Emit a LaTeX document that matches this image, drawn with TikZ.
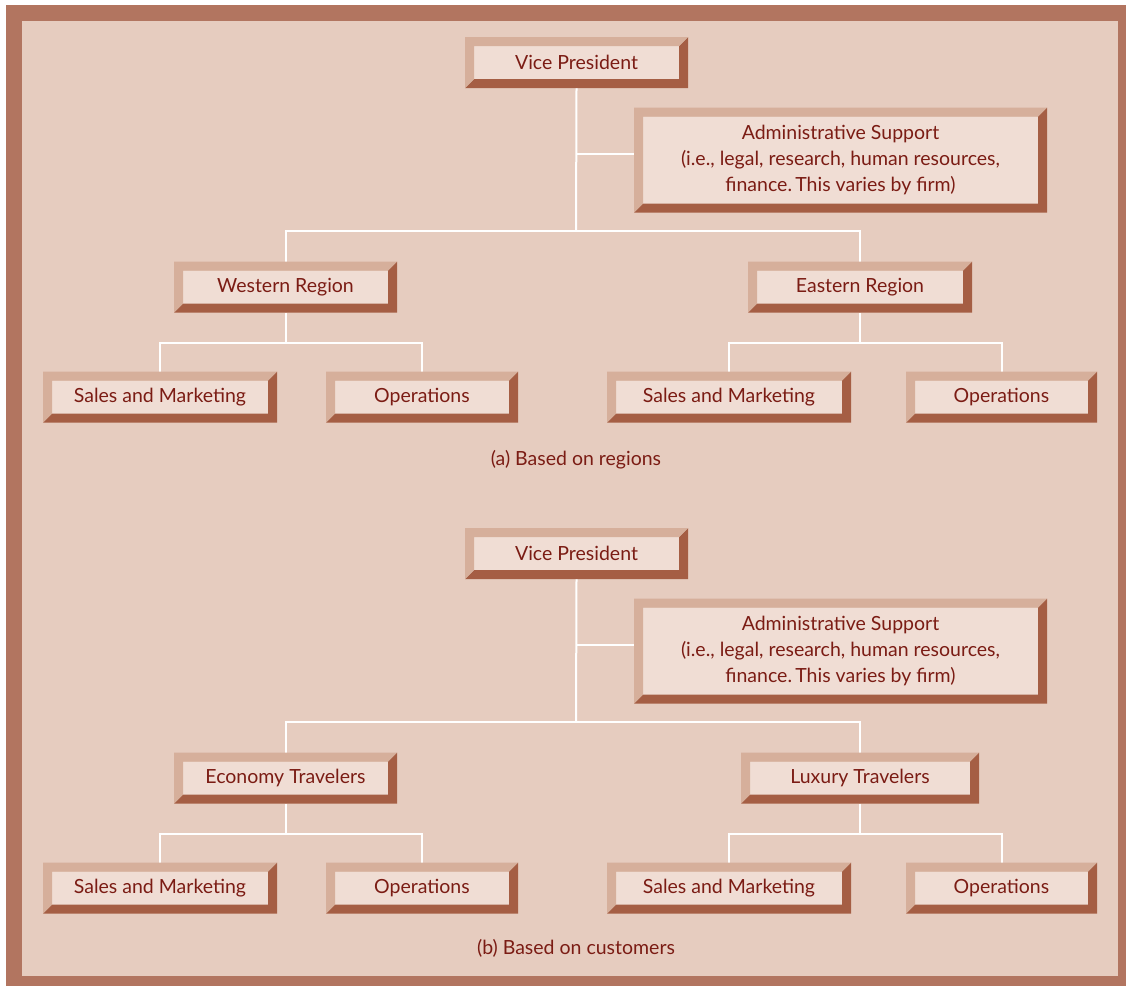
\documentclass[tikz,border=0pt]{standalone}
\usepackage{fontspec}
\setmainfont{Lato}
\usetikzlibrary{calc}
\frenchspacing
\definecolor{pagebg}{HTML}{E6CCBF}
\definecolor{framecol}{HTML}{B27560}
\definecolor{boxfill}{HTML}{F0DDD4}
\definecolor{bevellight}{HTML}{D6AF9B}
\definecolor{beveldark}{HTML}{A55E44}
\definecolor{txt}{HTML}{7B1C14}
\tikzset{
  orgbox/.style 2 args={fill=boxfill, text=txt, inner sep=0pt, outer sep=9pt,
    minimum width=#1-18pt, minimum height=#2-18pt, align=center,
    font=\fontsize{19.5}{26}\selectfont},
  caption/.style={text=txt, font=\fontsize{19.5}{22}\selectfont},
  wire/.style={draw=white, line width=2pt},
}
% Bevelled edge strips around a box whose anchors sit on the outer edge
\newcommand{\bevelframe}[1]{%
  \fill[beveldark] (#1.south west) -- (#1.south east) -- (#1.north east)
    -- ([shift={(-9pt,-9pt)}]#1.north east) -- ([shift={(-9pt,9pt)}]#1.south east)
    -- ([shift={(9pt,9pt)}]#1.south west) -- cycle;
  \fill[bevellight] (#1.south west) -- (#1.north west) -- (#1.north east)
    -- ([shift={(-9pt,-9pt)}]#1.north east) -- ([shift={(9pt,-9pt)}]#1.north west)
    -- ([shift={(9pt,9pt)}]#1.south west) -- cycle;
}
\begin{document}
\begin{tikzpicture}[x=1pt,y=-1pt]
\useasboundingbox (0,0) rectangle (1126,986);
\fill[white] (0,0) rectangle (1126,986);
\fill[framecol] (6,5) rectangle (1126,986);
\fill[pagebg] (22,21) rectangle (1118,976);

% ---- (a) organised by regions ----
\node[orgbox={223pt}{51pt}] (vpa) at (576.5,62.5) {Vice President};
\node[orgbox={413pt}{105pt}] (adma) at (840.5,160) {Administrative Support\\(i.e., legal, research, human resources,\\finance.\,This varies by firm)};
\node[orgbox={223pt}{51pt}] (wra) at (285.5,287) {Western Region};
\node[orgbox={224pt}{51pt}] (era) at (860,287) {Eastern Region};
\node[orgbox={234pt}{51pt}] (sma1) at (160,397) {Sales and Marketing};
\node[orgbox={192pt}{51pt}] (opa1) at (422,397) {Operations};
\node[orgbox={244pt}{51pt}] (sma2) at (729,397) {Sales and Marketing};
\node[orgbox={191pt}{51pt}] (opa2) at (1001.5,397) {Operations};
\node[caption] (capa) at (576,459.5) {(a) Based on regions};

\coordinate (busa) at (576,231);
\coordinate (wbusa) at (285.5,343);
\coordinate (ebusa) at (860,343);
\draw[wire] (vpa.south) -- (busa);
\draw[wire] ([yshift=6pt]adma.west) -- ([yshift=6pt]adma.west -| vpa.south);
\draw[wire] (wra.north) |- (busa) -| (era.north);
\draw[wire] (wra.south) -- (wbusa);
\draw[wire] (sma1.north) |- (wbusa) -| (opa1.north);
\draw[wire] (era.south) -- (ebusa);
\draw[wire] (sma2.north) |- (ebusa) -| (opa2.north);

% ---- (b) organised by customers ----
\node[orgbox={223pt}{51pt}] (vpb) at (576.5,553.5) {Vice President};
\node[orgbox={413pt}{105pt}] (admb) at (840.5,651) {Administrative Support\\(i.e., legal, research, human resources,\\finance.\,This varies by firm)};
\node[orgbox={223pt}{51pt}] (ecb) at (285.5,778) {Economy Travelers};
\node[orgbox={238pt}{51pt}] (lxb) at (860,778) {Luxury Travelers};
\node[orgbox={234pt}{51pt}] (smb1) at (160,888) {Sales and Marketing};
\node[orgbox={192pt}{51pt}] (opb1) at (422,888) {Operations};
\node[orgbox={244pt}{51pt}] (smb2) at (729,888) {Sales and Marketing};
\node[orgbox={191pt}{51pt}] (opb2) at (1001.5,888) {Operations};
\node[caption] (capb) at (576,948.5) {(b) Based on customers};

\coordinate (busb) at (576,722);
\coordinate (wbusb) at (285.5,834);
\coordinate (ebusb) at (860,834);
\draw[wire] (vpb.south) -- (busb);
\draw[wire] ([yshift=6pt]admb.west) -- ([yshift=6pt]admb.west -| vpb.south);
\draw[wire] (ecb.north) |- (busb) -| (lxb.north);
\draw[wire] (ecb.south) -- (wbusb);
\draw[wire] (smb1.north) |- (wbusb) -| (opb1.north);
\draw[wire] (lxb.south) -- (ebusb);
\draw[wire] (smb2.north) |- (ebusb) -| (opb2.north);

% bevelled edges on every box
\foreach \b in {vpa,adma,wra,era,sma1,opa1,sma2,opa2,vpb,admb,ecb,lxb,smb1,opb1,smb2,opb2}
  {\bevelframe{\b}}
\end{tikzpicture}
\end{document}
